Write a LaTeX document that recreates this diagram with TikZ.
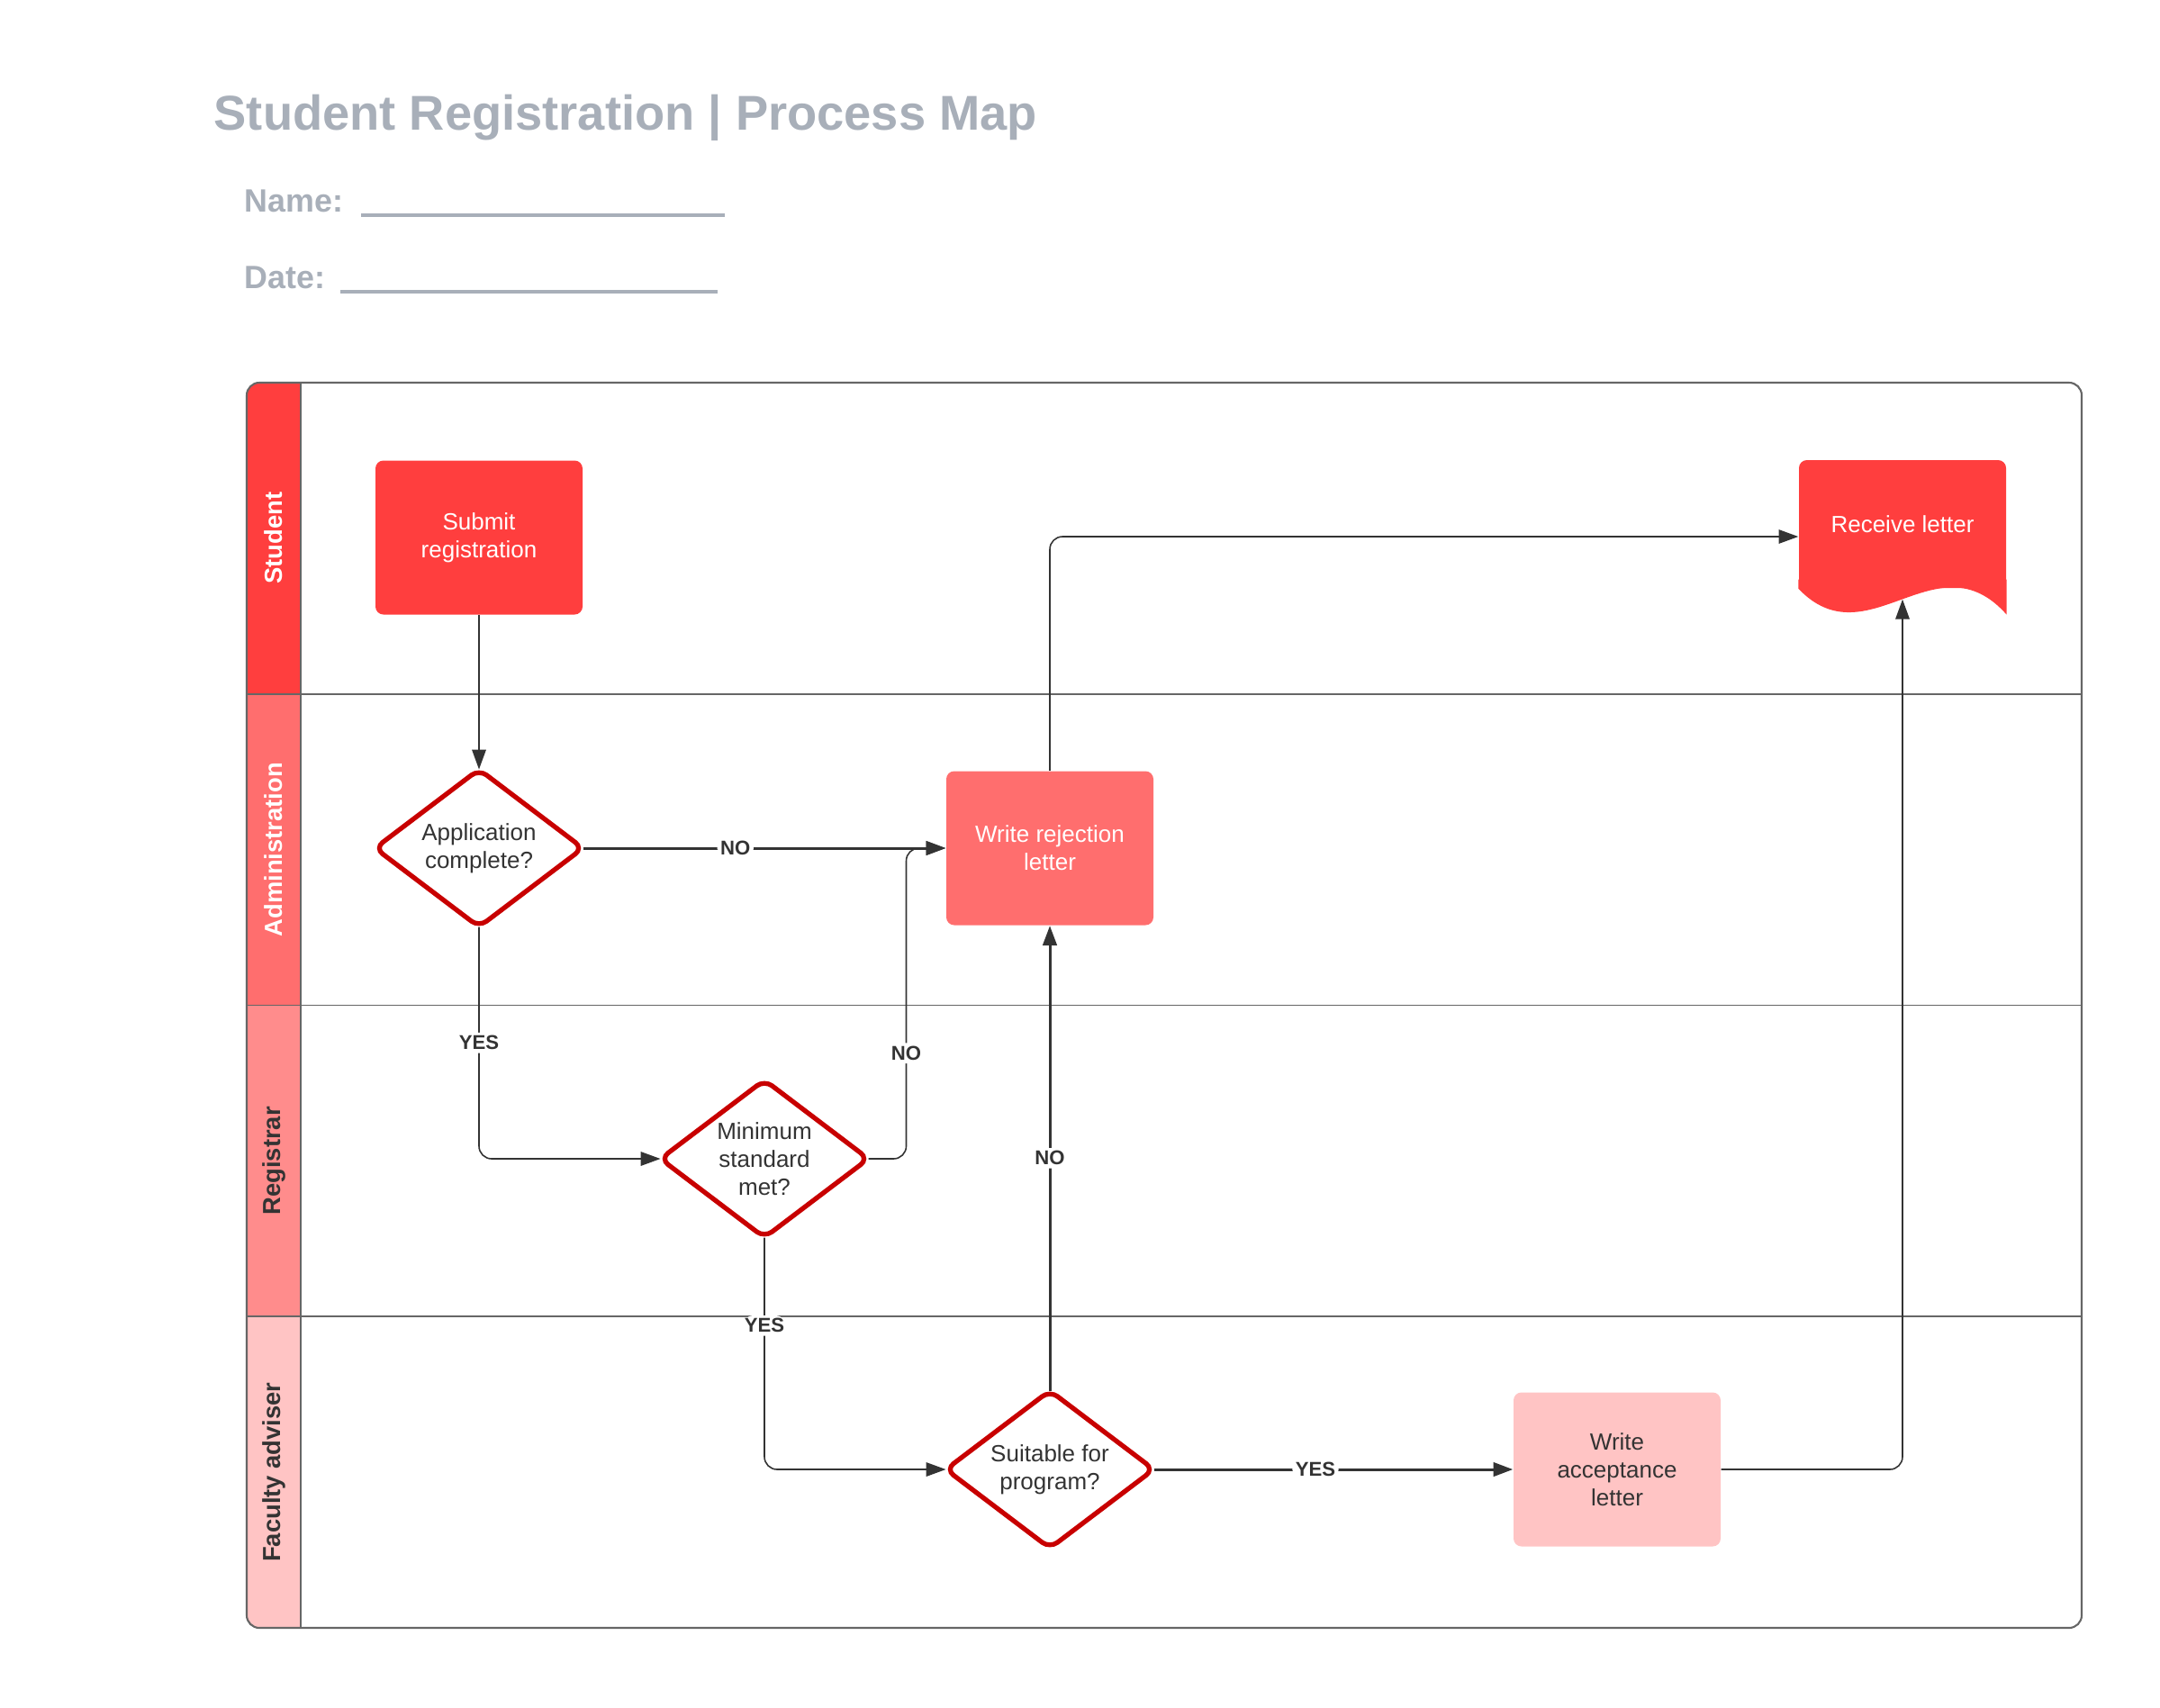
\documentclass[tikz,border=0pt]{standalone}
\usepackage{fontspec}
\setmainfont{Liberation Sans}
\usetikzlibrary{arrows.meta,positioning,shapes.geometric}

\definecolor{studcol}{HTML}{FF3E3E}
\definecolor{admcol}{HTML}{FF6E6E}
\definecolor{regcol}{HTML}{FF8C8C}
\definecolor{faccol}{HTML}{FFC4C4}
\definecolor{deccol}{HTML}{C80000}
\definecolor{darktext}{HTML}{333333}
\definecolor{titlegray}{HTML}{A8AFB9}
\definecolor{framegray}{HTML}{666666}

\newcommand{\boxfont}{\fontsize{7.4}{8.8}\selectfont}

\begin{document}
\begin{tikzpicture}[>={Triangle[length=6.2pt,width=4.4pt]}, node distance=3.45cm and 3.17cm, on grid,
  proc/.style={rectangle, rounded corners=2.5pt, minimum width=2.3cm, minimum height=1.71cm, align=center, font=\boxfont, inner sep=2pt},
  dec/.style={diamond, draw=deccol, line width=1.5pt, fill=white, rounded corners=3pt, aspect=1.33, minimum width=2.31cm, minimum height=1.75cm, inner sep=0pt, outer sep=0pt, align=center, font=\boxfont, text=darktext},
  lanehead/.style={rotate=90, minimum width=3.4575cm, minimum height=0.6cm, inner sep=0pt, font=\bfseries\fontsize{7.8}{9}\selectfont},
  flow/.style={->, draw=darktext, line width=0.45pt, rounded corners=4pt},
  thickflow/.style={flow, line width=0.85pt},
  lbl/.style={font=\bfseries\fontsize{6.3}{7}\selectfont, text=darktext, fill=white, inner sep=1pt},
  heading/.style={anchor=base west, text=titlegray, inner sep=0pt}]

  \useasboundingbox (0,0) rectangle (23.99,-18.96);

  % title and form fields
  \node[heading, font=\bfseries\fontsize{15.45}{18}\selectfont] (title) at (2.37,-1.44) {Student Registration | Process Map};
  \node[heading, font=\bfseries\fontsize{10.2}{12}\selectfont] (name) at (2.71,-2.35) {Name:\hspace{0.2cm}\rule[-1.6pt]{4.04cm}{1pt}};
  \node[heading, font=\bfseries\fontsize{10.2}{12}\selectfont] (date) at (2.71,-3.20) {Date:\hspace{0.17cm}\rule[-1.6pt]{4.19cm}{1pt}};

  % swimlanes
  \begin{scope}
    \clip[rounded corners=4pt] (2.74,-4.25) rectangle (23.12,-18.08);
    \foreach \lname/\lcol/\ltxt [count=\i] in {Student/studcol/white, Administration/admcol/white, Registrar/regcol/darktext, Faculty adviser/faccol/darktext}
    {
      \pgfmathsetmacro{\yc}{-4.25-3.4575*(\i-0.5)}
      \node[lanehead, fill=\lcol, text=\ltxt] (lane\i) at (3.04,\yc) {\lname};
    }
  \end{scope}
  \foreach \yl in {-7.7075,-11.165,-14.6225}
    \draw[framegray, line width=0.5pt] (2.74,\yl) -- (23.12,\yl);
  \draw[framegray, line width=0.6pt] (3.34,-4.25) -- (3.34,-18.08);
  \draw[framegray, line width=0.6pt, rounded corners=4pt] (2.74,-4.25) rectangle (23.12,-18.08);

  % steps
  \node[proc, fill=studcol, text=white] (submit) at (5.32,-5.97) {Submit\\registration};
  \node[dec] (appok) [below=of submit] {Application\\complete?};
  \node[dec] (minok) [below right=of appok] {Minimum\\standard\\met?};
  \node[dec] (suit) [below right=of minok] {Suitable for\\program?};
  \node[proc, fill=admcol, text=white] (rej) [above right=of minok] {Write rejection\\letter};
  \node[proc, fill=faccol, text=darktext] (acc) [right=6.3cm of suit] {Write\\acceptance\\letter};
  \node[proc, fill=studcol, text=white, minimum height=1.42cm] (recv) [above right=10.5cm and 3.17cm of acc] {Receive letter};
  \fill[studcol] ([yshift=0.1cm]recv.south west) -- (recv.south west)
    .. controls +(0.77,-0.81) and +(-0.78,0.88) .. ([yshift=-0.29cm]recv.south east)
    -- ([yshift=0.1cm]recv.south east) -- cycle;

  % flows
  \path (submit) edge[flow] (appok)
        (appok) edge[thickflow] node[lbl, pos=0.42] {NO} (rej)
        (suit) edge[thickflow] node[lbl] {NO} (rej)
        (suit) edge[thickflow] node[lbl, pos=0.45] {YES} (acc);
  \draw[flow] (appok.south) |- node[lbl, pos=0.25] {YES} (minok.west);
  \draw[flow] (minok.east) -- ++(0.42,0) |- node[lbl, pos=0.17] {NO} (rej.west);
  \draw[flow] (minok.south) |- node[lbl, pos=0.19] {YES} (suit.west);
  \draw[flow] (rej.north) |- ([yshift=-0.14cm]recv.west);
  \draw[flow] (acc.east) -| ([yshift=-0.12cm]recv.south);
\end{tikzpicture}
\end{document}
